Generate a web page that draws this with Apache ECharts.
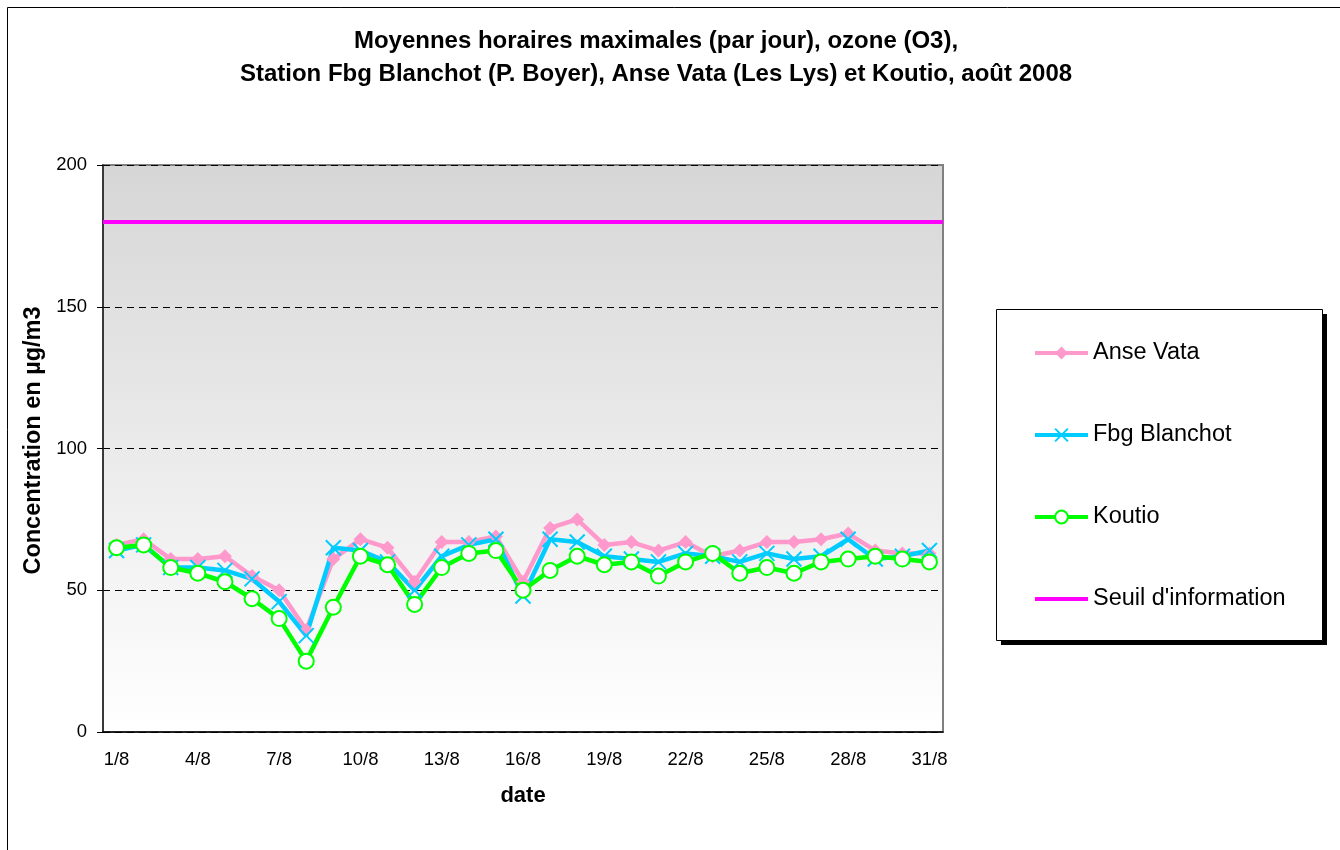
<!DOCTYPE html>
<html>
<head>
<meta charset="utf-8">
<title>Ozone août 2008</title>
<script src="https://cdn.jsdelivr.net/npm/echarts@6/dist/echarts.min.js"></script>
<style>
  html, body { margin: 0; padding: 0; background: #fff; }
  #chart { width: 1340px; height: 850px; }
</style>
</head>
<body>
<div id="chart"></div>
<script>
// jours du mois d'août
var days = ['1/8','2/8','3/8','4/8','5/8','6/8','7/8','8/8','9/8','10/8','11/8','12/8','13/8','14/8','15/8','16/8',
            '17/8','18/8','19/8','20/8','21/8','22/8','23/8','24/8','25/8','26/8','27/8','28/8','29/8','30/8','31/8'];

// maxima horaires par jour (µg/m3)
var anseVata    = [66,68,61,61,62,55,50,36,61,68,65,53,67,67,69,53,72,75,66,67,64,67,62,64,67,67,68,70,64,63,63];
var fbgBlanchot = [64,66,58,58,57,54,46,34,65,64,60,50,62,66,68,48,68,67,62,61,60,63,62,60,63,61,62,68,61,62,64];
var koutio      = [65,66,58,56,53,47,40,25,44,62,59,45,58,63,64,50,57,62,59,60,55,60,63,56,58,56,60,61,62,61,60];

var seuilInformation = 180;
var yTicks = [0, 50, 100, 150, 200];

var font = '"Liberation Sans", Arial, sans-serif';

var myChart = echarts.init(document.getElementById('chart'));

myChart.setOption({
  animation: false,
  backgroundColor: '#fff',
  textStyle: { fontFamily: font },
  title: {
    text: 'Moyennes horaires maximales (par jour), ozone (O3),\nStation Fbg Blanchot (P. Boyer), Anse Vata (Les Lys) et Koutio, août 2008',
    left: 651,
    textAlign: 'center',
    top: 20,
    textStyle: { fontFamily: font, fontSize: 24, fontWeight: 'bold', color: '#000', lineHeight: 33 }
  },
  graphic: [
    // cadre extérieur
    { type: 'rect', z: -10, shape: { x: 7.5, y: 7.5, width: 1345, height: 860 },
      style: { fill: 'none', stroke: '#000', lineWidth: 1 } },
    // ombre + cadre de la légende
    { type: 'rect', z: 0, shape: { x: 1001, y: 314, width: 326, height: 331 }, style: { fill: '#000' } },
    { type: 'rect', z: 0, shape: { x: 996.5, y: 309.5, width: 326, height: 331 },
      style: { fill: '#fff', stroke: '#000', lineWidth: 1 } }
  ],
  legend: {
    orient: 'vertical',
    left: 1028,
    top: 336,
    itemWidth: 53,
    itemHeight: 16,
    itemGap: 58,
    z: 10,
    lineStyle: { width: 4 },
    textStyle: { fontFamily: font, fontSize: 23.5, color: '#000' },
    data: ['Anse Vata', 'Fbg Blanchot', 'Koutio',
           { name: "Seuil d'information", itemStyle: { opacity: 0 } }]
  },
  grid: {
    left: 103, top: 165, right: 397, bottom: 118,
    show: true,
    borderColor: '#808080',
    borderWidth: 2,
    backgroundColor: {
      type: 'linear', x: 0, y: 0, x2: 0, y2: 1,
      colorStops: [{ offset: 0, color: '#d6d6d6' }, { offset: 1, color: '#ffffff' }]
    }
  },
  xAxis: {
    type: 'category',
    data: days,
    boundaryGap: true,
    name: 'date',
    nameLocation: 'middle',
    nameGap: 53,
    nameTextStyle: { fontFamily: font, fontSize: 22, fontWeight: 'bold', color: '#000' },
    axisLine: { lineStyle: { color: '#000', width: 1.5 } },
    axisTick: { interval: 2, length: 5, lineStyle: { color: '#000' } },
    axisLabel: { interval: 2, fontSize: 18.5, color: '#000', margin: 18 },
    splitLine: { show: false }
  },
  yAxis: {
    type: 'value',
    min: yTicks[0],
    max: yTicks[yTicks.length - 1],
    interval: 50,
    name: 'Concentration en µg/m3',
    nameLocation: 'middle',
    nameGap: 56,
    nameTextStyle: { fontFamily: font, fontSize: 23.5, fontWeight: 'bold', color: '#000', padding: [0, 0, 0, 16] },
    axisLine: { show: true, lineStyle: { color: '#222', width: 1.5 } },
    axisTick: { show: true, length: 6, lineStyle: { color: '#000' } },
    axisLabel: { fontSize: 18.5, color: '#000', margin: 16 },
    splitLine: {
      show: true,
      lineStyle: { color: '#000', type: [7, 5], width: 1 }
    }
  },
  series: [
    {
      name: 'Anse Vata',
      type: 'line',
      data: anseVata,
      symbol: 'diamond',
      symbolSize: 14,
      lineStyle: { color: '#ff99cc', width: 4.5 },
      itemStyle: { color: '#ff99cc' }
    },
    {
      name: 'Fbg Blanchot',
      type: 'line',
      data: fbgBlanchot,
      symbol: 'path://M0,0 L10,10 M10,0 L0,10',
      symbolSize: 15,
      lineStyle: { color: '#00ccff', width: 4.5 },
      itemStyle: { color: '#00ccff', borderColor: '#00ccff', borderWidth: 2 }
    },
    {
      name: 'Koutio',
      type: 'line',
      data: koutio,
      symbol: 'emptyCircle',
      symbolSize: 15,
      lineStyle: { color: '#00ff00', width: 4.5 },
      itemStyle: { color: '#00ff00', borderColor: '#00ff00', borderWidth: 2 }
    },
    {
      name: "Seuil d'information",
      type: 'line',
      data: [],
      symbol: 'none',
      lineStyle: { color: '#ff00ff', width: 4 },
      itemStyle: { color: '#ff00ff' },
      markLine: {
        silent: true,
        symbol: ['none', 'none'],
        label: { show: false },
        lineStyle: { color: '#ff00ff', width: 4, type: 'solid' },
        data: [{ yAxis: seuilInformation }]
      }
    }
  ]
});
</script>
</body>
</html>
